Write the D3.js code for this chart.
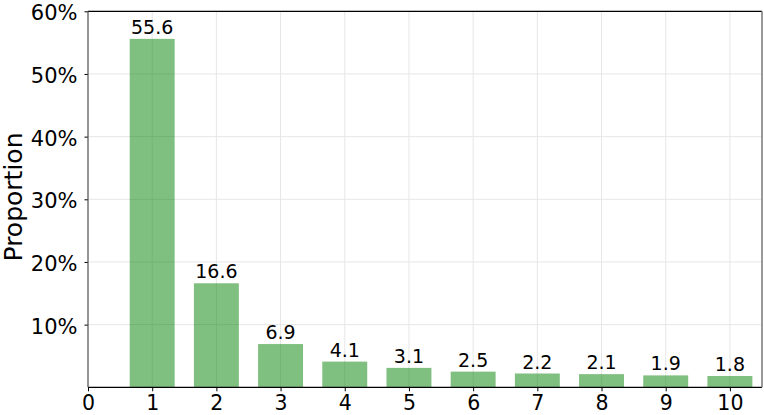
<!DOCTYPE html>
<html><head><meta charset="utf-8">
<script src="https://cdn.jsdelivr.net/npm/d3@7"></script>
<style>body{margin:0;background:#fff}svg{display:block}text{font-family:"DejaVu Sans",sans-serif}</style>
</head><body><svg id="c" width="764" height="415"></svg>
<script>
const categories = [1,2,3,4,5,6,7,8,9,10];
const values = [55.6,16.6,6.9,4.1,3.1,2.5,2.2,2.1,1.9,1.8];
const xTicks = [0,1,2,3,4,5,6,7,8,9,10];
const yTicks = [10,20,30,40,50,60];

const svg = d3.select("#c");
const m = {l:88, r:762, t:11.3, b:387.3};
const x = d3.scaleLinear().domain([0,10.5]).range([m.l,m.r]);
const y = d3.scaleLinear().domain([0,60]).range([m.b,m.t]);

// grid
svg.append("g").selectAll("line").data(xTicks).join("line")
  .attr("x1",d=>x(d)).attr("x2",d=>x(d)).attr("y1",m.t).attr("y2",m.b)
  .attr("stroke","#e6e6e6").attr("stroke-width",1);
svg.append("g").selectAll("line").data(yTicks).join("line")
  .attr("x1",m.l).attr("x2",m.r).attr("y1",d=>y(d)).attr("y2",d=>y(d))
  .attr("stroke","#e6e6e6").attr("stroke-width",1);

// bars
const bw = x(0.7)-x(0);
svg.append("g").selectAll("rect").data(categories).join("rect")
  .attr("x",(d)=>x(d)-bw/2).attr("width",bw)
  .attr("y",(d,i)=>y(values[i])).attr("height",(d,i)=>y(0)-y(values[i]))
  .attr("fill","#008000").attr("fill-opacity",0.5);

// value labels
svg.append("g").selectAll("text").data(categories).join("text")
  .attr("x",d=>x(d)).attr("y",(d,i)=>y(values[i])-5)
  .attr("text-anchor","middle").attr("font-size",19).attr("fill","#000")
  .text((d,i)=>values[i].toFixed(1));

// axes
const xAxis = d3.axisBottom(x).tickValues(xTicks).tickSize(4).tickPadding(4).tickFormat(d3.format("d"));
const gx = svg.append("g").attr("transform",`translate(0,${m.b})`).call(xAxis);
gx.select(".domain").remove();
gx.selectAll("text").attr("font-size",20.5).attr("font-family","DejaVu Sans").attr("fill","#000");
gx.selectAll("line").attr("stroke","#000");

const yAxis = d3.axisLeft(y).tickValues(yTicks).tickSize(3.5).tickPadding(7).tickFormat(d=>d+"%");
const gy = svg.append("g").attr("transform",`translate(${m.l},0)`).call(yAxis);
gy.select(".domain").remove();
gy.selectAll("text").attr("font-size",21).attr("font-family","DejaVu Sans").attr("fill","#000").attr("dy","0.40em");
gy.selectAll("line").attr("stroke","#000");

// spines
svg.append("line").attr("x1",m.l).attr("x2",m.r).attr("y1",m.b).attr("y2",m.b).attr("stroke","#000").attr("stroke-width",1.2);
svg.append("line").attr("x1",m.l).attr("x2",m.r).attr("y1",m.t).attr("y2",m.t).attr("stroke","#000").attr("stroke-width",1.2);
svg.append("line").attr("x1",m.l).attr("x2",m.l).attr("y1",m.t).attr("y2",m.b).attr("stroke","#555").attr("stroke-width",1.2);
svg.append("line").attr("x1",m.r).attr("x2",m.r).attr("y1",m.t).attr("y2",m.b).attr("stroke","#777").attr("stroke-width",1.5);

// y label
svg.append("text").attr("transform",`translate(21.5,${197}) rotate(-90)`)
  .attr("text-anchor","middle").attr("font-size",25).attr("fill","#000").text("Proportion");
</script></body></html>
